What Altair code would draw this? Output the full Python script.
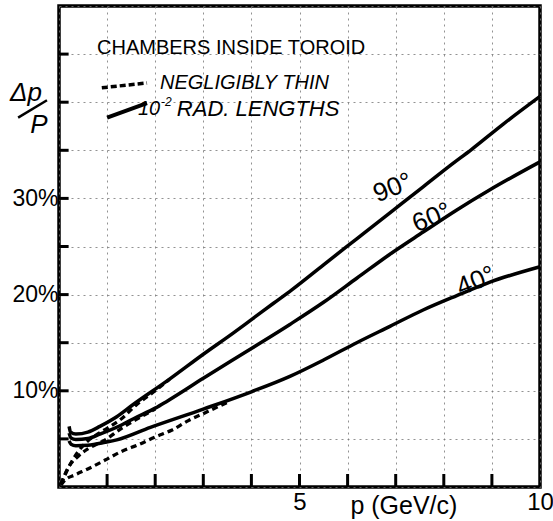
import altair as alt
import pandas as pd

# ---- data ----
# solid curves: chambers of 10^-2 radiation lengths
p_90 = [0.21, 0.24, 0.35, 0.6, 0.85, 1.2, 1.55, 2.24, 3.0, 3.62, 4.0, 4.46, 4.84, 5.5, 6.19, 6.88, 7.57, 8.13, 8.58, 9.23, 10.0]
v_90 = [6.3, 5.7, 5.5, 5.7, 6.3, 7.3, 8.6, 11.0, 13.8, 16.0, 17.4, 19.1, 20.5, 23.1, 25.8, 28.5, 31.2, 33.4, 35.1, 37.7, 40.6]
p_60 = [0.21, 0.25, 0.35, 0.6, 0.85, 1.3, 1.55, 2.0, 2.24, 3.0, 4.0, 4.8, 5.5, 6.19, 6.88, 7.57, 8.27, 8.96, 10.0]
v_60 = [5.6, 5.1, 4.95, 5.05, 5.5, 6.45, 7.1, 8.2, 8.9, 11.3, 14.4, 16.9, 19.2, 21.7, 24.2, 26.5, 28.8, 30.9, 33.8]
p_40 = [0.21, 0.25, 0.35, 0.6, 0.96, 1.2, 1.9, 3.0, 4.0, 4.8, 5.5, 6.19, 6.88, 7.57, 8.27, 8.96, 10.0]
v_40 = [4.8, 4.45, 4.3, 4.35, 4.65, 4.9, 6.2, 8.1, 9.9, 11.5, 13.2, 15.0, 16.7, 18.4, 19.9, 21.3, 22.9]

# dashed curves: negligibly thin chambers
pd_90 = [0.04, 0.12, 0.26, 0.4, 0.58, 0.8, 1.0, 1.3, 1.6, 2.0, 2.3]
vd_90 = [0.3, 1.2, 2.6, 3.7, 4.7, 5.5, 6.1, 7.1, 8.5, 10.0, 11.2]
pd_60 = [0.04, 0.19, 0.4, 0.61, 0.96, 1.3, 1.6, 2.0]
vd_60 = [0.3, 2.0, 3.2, 4.0, 4.9, 6.1, 7.0, 8.1]
pd_40 = [0.04, 0.12, 0.33, 0.61, 0.96, 1.3, 1.65, 2.0, 2.34, 2.69, 3.03, 3.5]
vd_40 = [0.2, 0.7, 1.25, 1.9, 2.8, 3.7, 4.4, 5.2, 5.9, 6.9, 7.7, 8.8]

x_ticks = [1, 2, 3, 4, 5, 6, 7, 8, 9]
y_ticks = [5, 10, 15, 20, 25, 30, 35, 40, 45]

angle_text = ["90°", "60°", "40°"]
angle_p = [6.94, 7.75, 8.67]
angle_v = [31.1, 28.0, 21.4]

FONT = "Liberation Sans"


def frame(ps, vs, name):
    return pd.DataFrame({"p": ps, "v": vs, "s": name})


solid = pd.concat([frame(p_90, v_90, "90"), frame(p_60, v_60, "60"), frame(p_40, v_40, "40")])
dashed = pd.concat([frame(pd_90, vd_90, "90"), frame(pd_60, vd_60, "60"), frame(pd_40, vd_40, "40")])

xs = alt.Scale(domain=[0, 10], nice=False, zero=False)
ys = alt.Scale(domain=[0, 50], nice=False, zero=False)

x_axis = alt.Axis(values=list(range(0, 11)), title=None, domain=False, ticks=False,
                  labelExpr="(datum.value == 5 || datum.value == 10) ? datum.label : ''",
                  labelFontSize=24, labelFont=FONT, labelColor="black", labelPadding=3,
                  labelFlush=False, labelAlign="center",
                  grid=True, gridColor="#777777", gridDash=[2, 4], gridWidth=1, gridOpacity=0.8)
y_axis = alt.Axis(values=list(range(0, 51, 5)), title=None, domain=False, ticks=False,
                  labelExpr="(datum.value == 10 || datum.value == 20 || datum.value == 30) ? datum.value + '%' : ''",
                  labelFontSize=23, labelFont=FONT, labelColor="black", labelPadding=1,
                  grid=True, gridColor="#777777", gridDash=[2, 4], gridWidth=1, gridOpacity=0.8)

base_solid = alt.Chart(solid).mark_line(color="black", strokeWidth=3.5, interpolate="monotone").encode(
    x=alt.X("p:Q", scale=xs, axis=x_axis),
    y=alt.Y("v:Q", scale=ys, axis=y_axis),
    detail="s:N",
    order="p:Q",
)

dash_lines = alt.Chart(dashed).mark_line(color="black", strokeWidth=3.3, strokeDash=[6, 4],
                                         interpolate="monotone").encode(
    x=alt.X("p:Q", scale=xs), y=alt.Y("v:Q", scale=ys), detail="s:N", order="p:Q")

xt = pd.DataFrame({"p": x_ticks, "y0": [0] * len(x_ticks), "y1": [1.35] * len(x_ticks)})
x_tick_marks = alt.Chart(xt).mark_rule(color="black", strokeWidth=3).encode(
    x=alt.X("p:Q", scale=xs), y=alt.Y("y0:Q", scale=ys), y2="y1:Q")

yt = pd.DataFrame({"v": y_ticks, "x0": [0] * len(y_ticks), "x1": [0.2] * len(y_ticks)})
y_tick_marks = alt.Chart(yt).mark_rule(color="black", strokeWidth=3).encode(
    y=alt.Y("v:Q", scale=ys), x=alt.X("x0:Q", scale=xs), x2="x1:Q")

angles = pd.DataFrame({"t": angle_text, "p": angle_p, "v": angle_v})
angle_labels = alt.Chart(angles).mark_text(font=FONT, fontSize=26, angle=338, color="black").encode(
    x=alt.X("p:Q", scale=xs), y=alt.Y("v:Q", scale=ys), text="t:N")

# legend block
leg_title = alt.Chart(pd.DataFrame({"t": ["CHAMBERS INSIDE TOROID"], "p": [0.79], "v": [45.6]})).mark_text(
    font=FONT, fontSize=20, align="left", baseline="middle", color="black").encode(
    x=alt.X("p:Q", scale=xs), y=alt.Y("v:Q", scale=ys), text="t:N")
leg_items = alt.Chart(pd.DataFrame({
    "t": ["NEGLIGIBLY THIN", "10"],
    "p": [2.1, 1.64],
    "v": [41.95, 39.3]})).mark_text(
    font=FONT, fontSize=20, fontStyle="italic", align="left", baseline="middle", color="black").encode(
    x=alt.X("p:Q", scale=xs), y=alt.Y("v:Q", scale=ys), text="t:N")
leg_rad = alt.Chart(pd.DataFrame({"t": ["RAD. LENGTHS"], "p": [2.45], "v": [39.3]})).mark_text(
    font=FONT, fontSize=22, fontStyle="italic", align="left", baseline="middle", color="black").encode(
    x=alt.X("p:Q", scale=xs), y=alt.Y("v:Q", scale=ys), text="t:N")
leg_sup = alt.Chart(pd.DataFrame({"t": ["-2"], "p": [2.12], "v": [40.05]})).mark_text(
    font=FONT, fontSize=12, fontStyle="italic", align="left", baseline="middle", color="black").encode(
    x=alt.X("p:Q", scale=xs), y=alt.Y("v:Q", scale=ys), text="t:N")
leg_dash = alt.Chart(pd.DataFrame({"p": [0.89, 1.83], "v": [41.5, 42.0]})).mark_line(
    color="black", strokeWidth=3.5, strokeDash=[6, 3]).encode(
    x=alt.X("p:Q", scale=xs), y=alt.Y("v:Q", scale=ys))
leg_solid = alt.Chart(pd.DataFrame({"p": [1.0, 1.83], "v": [38.4, 39.9]})).mark_line(
    color="black", strokeWidth=4).encode(
    x=alt.X("p:Q", scale=xs), y=alt.Y("v:Q", scale=ys))

# axis titles
x_title = alt.Chart(pd.DataFrame({"t": ["p (GeV/c)"], "p": [7.17], "v": [-1.95]})).mark_text(
    font=FONT, fontSize=25, baseline="middle", color="black").encode(
    x=alt.X("p:Q", scale=xs), y=alt.Y("v:Q", scale=ys), text="t:N")
y_title_top = alt.Chart(pd.DataFrame({"t": ["Δp"], "p": [-1.02], "v": [41.0]})).mark_text(
    font=FONT, fontSize=26, fontStyle="italic", align="left", baseline="middle", color="black").encode(
    x=alt.X("p:Q", scale=xs), y=alt.Y("v:Q", scale=ys), text="t:N")
y_title_bot = alt.Chart(pd.DataFrame({"t": ["P"], "p": [-0.42], "v": [37.6]})).mark_text(
    font=FONT, fontSize=26, fontStyle="italic", baseline="middle", color="black").encode(
    x=alt.X("p:Q", scale=xs), y=alt.Y("v:Q", scale=ys), text="t:N")
y_title_bar = alt.Chart(pd.DataFrame({"p": [-0.85, -0.25], "v": [38.4, 40.2]})).mark_line(
    color="black", strokeWidth=2.5).encode(
    x=alt.X("p:Q", scale=xs), y=alt.Y("v:Q", scale=ys))

chart = alt.layer(
    base_solid, dash_lines, x_tick_marks, y_tick_marks, angle_labels,
    leg_title, leg_items, leg_rad, leg_sup, leg_dash, leg_solid,
    x_title, y_title_top, y_title_bot, y_title_bar,
).properties(
    width=481, height=481,
    autosize=alt.AutoSizeParams(type="none"),
    padding={"left": 59, "top": 6, "right": 13, "bottom": 34},
    background="white",
).configure_view(stroke="black", strokeWidth=3.5)

chart.save("out.html", embed_options={"renderer": "svg", "actions": False})
